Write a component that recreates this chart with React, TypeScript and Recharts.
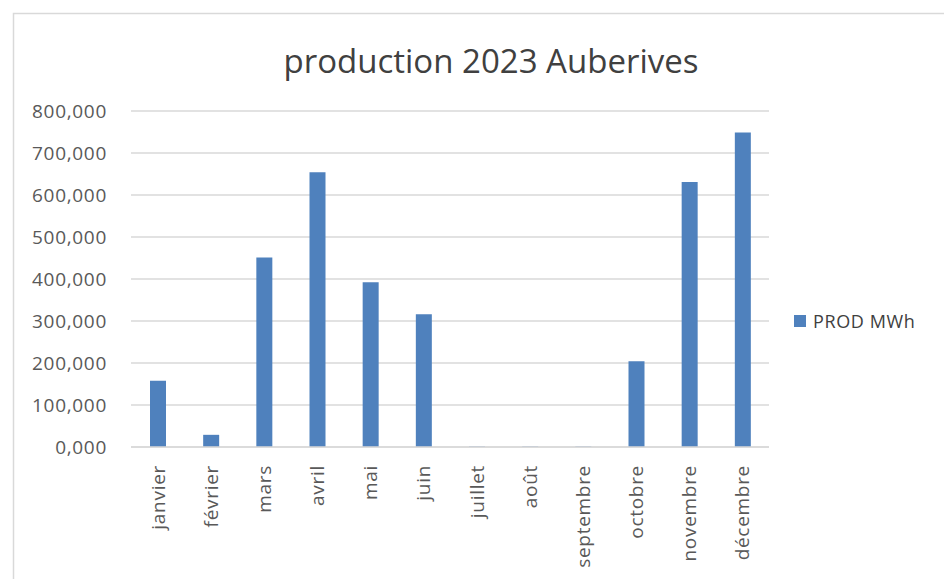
import { BarChart, Bar, XAxis, YAxis, CartesianGrid } from 'recharts';

const months = [
  'janvier',
  'février',
  'mars',
  'avril',
  'mai',
  'juin',
  'juillet',
  'août',
  'septembre',
  'octobre',
  'novembre',
  'décembre',
];
const prodMWh = [158, 29, 451, 654, 392, 316, 1, 1, 1, 204, 631, 749];
const yTicks = [0, 100, 200, 300, 400, 500, 600, 700, 800];

const data = months.map((m, i) => ({ month: m, prod: prodMWh[i] }));

const FONT = '"Open Sans", "DejaVu Sans", sans-serif';
const BLUE = '#4f81bd';
const GRID = '#d9d9d9';

// format a la francaise : 800,000
const fmt = (v: number) => v.toFixed(3).replace('.', ',');

const MonthTick = ({ x, y, payload }: { x: number; y: number; payload: { value: string } }) => (
  <text
    x={x}
    y={y}
    transform={`rotate(-90 ${x} ${y})`}
    textAnchor="end"
    dominantBaseline="central"
    fontFamily={FONT}
    fontSize={19}
    letterSpacing={0.7}
    fill="#595959"
  >
    {payload.value}
  </text>
);

export default function App() {
  return (
    <div style={{ position: 'absolute', left: 0, top: 0, width: 944, height: 579, background: '#fff' }}>
      <BarChart
        width={944}
        height={579}
        data={data}
        margin={{ top: 111, right: 175, bottom: 0, left: 0 }}
        barSize={16}
      >
        <CartesianGrid vertical={false} stroke={GRID} strokeWidth={1.5} />
        <XAxis
          dataKey="month"
          height={132}
          interval={0}
          tickLine={false}
          tickSize={0}
          tickMargin={18}
          axisLine={{ stroke: GRID, strokeWidth: 1.5 }}
          tick={MonthTick}
        />
        <YAxis
          width={131}
          domain={[0, 800]}
          ticks={yTicks}
          tickFormatter={fmt}
          axisLine={false}
          tickLine={false}
          tickSize={0}
          tickMargin={24}
          tick={{ fontFamily: FONT, fontSize: 19, fill: '#595959', letterSpacing: 0.7 }}
        />
        <Bar dataKey="prod" fill={BLUE} isAnimationActive={false} />
      </BarChart>
      <svg
        width={944}
        height={579}
        style={{ position: 'absolute', left: 0, top: 0, pointerEvents: 'none' }}
      >
        <path d="M13.5 579 V13.5 H944" fill="none" stroke={GRID} strokeWidth={1.5} />
        <text
          x={491}
          y={73}
          textAnchor="middle"
          fontFamily={FONT}
          fontSize={33}
          fill="#404040"
        >
          production 2023 Auberives
        </text>
        <rect x={794} y={315} width={12} height={12} fill={BLUE} />
        <text x={813} y={328} fontFamily={FONT} fontSize={18} letterSpacing={0.6} fill="#404040">
          PROD MWh
        </text>
      </svg>
    </div>
  );
}
